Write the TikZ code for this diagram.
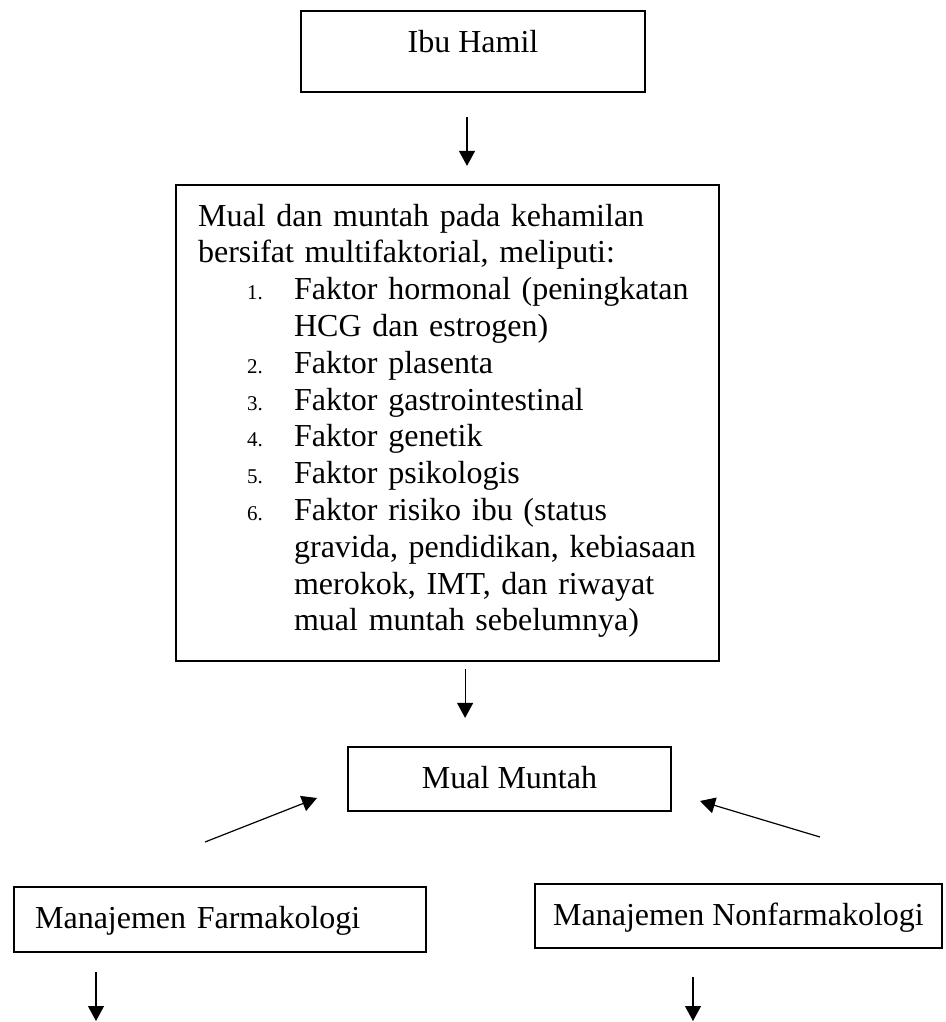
\documentclass[tikz,border=0pt]{standalone}
\usepackage{fontspec}
\setmainfont{Liberation Serif}
\usetikzlibrary{arrows.meta}
\begin{document}
\begin{tikzpicture}[x=1pt,y=-1pt,
  box/.style={draw, line width=2.2pt, inner sep=0pt},
  arr/.style={-{Triangle[width=16pt,length=15pt]}, line width=1.2pt},
  num/.style={},
  font=\fontsize{32}{36.8}\selectfont]
\useasboundingbox (0,0) rectangle (945,1022);
\newcommand{\itemnum}[1]{\hspace*{49pt}\makebox[47pt][l]{\fontsize{21}{24}\selectfont #1}}
\newcommand{\itemcont}{\hspace*{96pt}}

\node[box, anchor=base, minimum width=344pt, text height=42pt, text depth=39pt] (ibu) at (473,53) {Ibu Hamil};

\node[box, anchor=base west, text width=499pt, align=left, inner xsep=22pt, inner ysep=0pt,
      text height=41pt, text depth=435pt] (factors) at (175,226)
 {Mual dan muntah pada kehamilan\\
  bersifat multifaktorial, meliputi:\\
  \itemnum{1.}Faktor hormonal (peningkatan\\
  \itemcont HCG dan estrogen)\\
  \itemnum{2.}Faktor plasenta\\
  \itemnum{3.}Faktor gastrointestinal\\
  \itemnum{4.}Faktor genetik\\
  \itemnum{5.}Faktor psikologis\\
  \itemnum{6.}Faktor risiko ibu (status\\
  \itemcont gravida, pendidikan, kebiasaan\\
  \itemcont merokok, IMT, dan riwayat\\
  \itemcont mual muntah sebelumnya)};

\node[box, anchor=base, minimum width=323pt, text height=41pt, text depth=23pt] (mm) at (509.5,788) {Mual Muntah};

\node[box, anchor=base west, text width=370pt, align=left, inner xsep=21pt, inner ysep=0pt,
      text height=41pt, text depth=24pt] (farm) at (13,928) {Manajemen Farmakologi};

\node[box, anchor=base, minimum width=407pt, text height=41pt, text depth=23pt] (nonfarm) at (738.5,925) {Manajemen Nonfarmakologi};

\draw[arr, shorten <=24pt, shorten >=18pt] ([xshift=-6pt]ibu.south) -- ([xshift=-6pt]ibu.south |- factors.north);
\draw[arr, shorten <=7pt, shorten >=28pt] ([xshift=17.5pt]factors.south) -- ([xshift=17.5pt]factors.south |- mm.north);

\coordinate (ltail) at (205,842);
\coordinate (ltip) at (317,798);
\coordinate (rtail) at (820,837);
\coordinate (rtip) at (700,801);
\draw[arr] (ltail) -- (ltip);
\draw[arr] (rtail) -- (rtip);

\coordinate (fend) at (96,1021);
\coordinate (nend) at (693,1021);
\draw[arr, shorten <=19pt] (farm.south -| fend) -- (fend);
\draw[arr, shorten <=28pt] (nonfarm.south -| nend) -- (nend);
\end{tikzpicture}
\end{document}
